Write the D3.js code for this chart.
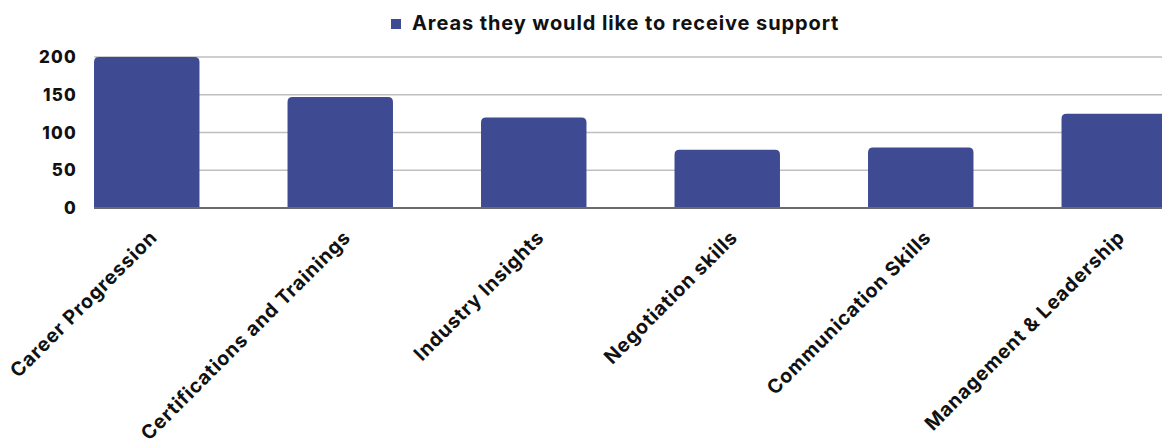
<!DOCTYPE html>
<html>
<head>
<meta charset="utf-8">
<script src="https://cdn.jsdelivr.net/npm/d3@7"></script>
<style>
  html, body { margin: 0; padding: 0; background: #ffffff; }
  svg { display: block; font-family: Inter, Lato, "Open Sans", sans-serif; }
</style>
</head>
<body>
<svg id="chart" width="1162" height="442"></svg>
<script>
// Survey responses: areas where respondents would like support
const categories = [
  "Career Progression",
  "Certifications and Trainings",
  "Industry Insights",
  "Negotiation skills",
  "Communication Skills",
  "Management & Leadership"
];
const supportCounts = [200, 147, 120, 77, 80, 125];
const yTicks = [0, 50, 100, 150, 200];
const seriesName = "Areas they would like to receive support";

const W = 1162, H = 442;
const barColor = "#3e4b92";

const svg = d3.select("#chart");

// Plot frame: category bands run past the right edge of the canvas
const plotLeft = 94;
const x = d3.scaleBand()
  .domain(categories)
  .range([50, 50 + 193.5 * categories.length])
  .paddingInner(0.455)
  .paddingOuter(0.2275);

const y = d3.scaleLinear()
  .domain([0, 200])
  .range([208, 57]);

// Horizontal gridlines
svg.append("g")
  .selectAll("line")
  .data(yTicks.filter(d => d > 0))
  .join("line")
  .attr("x1", plotLeft)
  .attr("x2", W)
  .attr("y1", d => y(d))
  .attr("y2", d => y(d))
  .attr("stroke", "#bfbfbf")
  .attr("stroke-width", 1.5);

// Y axis tick labels
svg.append("g")
  .selectAll("text")
  .data(yTicks)
  .join("text")
  .attr("x", 77)
  .attr("y", d => y(d))
  .attr("dy", "0.36em")
  .attr("text-anchor", "end")
  .attr("font-size", 17)
  .attr("font-weight", 800)
  .attr("letter-spacing", 1.2)
  .attr("fill", "#111")
  .text(d => d);

// Bars with rounded top corners
const r = 5;
function barPath(d, i) {
  const x0 = x(categories[i]);
  const x1 = x0 + x.bandwidth();
  const yt = y(d);
  const yb = y(0);
  return `M${x0},${yb} L${x0},${yt + r} Q${x0},${yt} ${x0 + r},${yt} ` +
         `L${x1 - r},${yt} Q${x1},${yt} ${x1},${yt + r} L${x1},${yb} Z`;
}
svg.append("g")
  .selectAll("path")
  .data(supportCounts)
  .join("path")
  .attr("d", (d, i) => barPath(d, i))
  .attr("fill", barColor);

// Baseline
svg.append("line")
  .attr("x1", plotLeft)
  .attr("x2", W)
  .attr("y1", y(0))
  .attr("y2", y(0))
  .attr("stroke", "#6b6b6b")
  .attr("stroke-width", 2);

// Rotated category labels
svg.append("g")
  .selectAll("text")
  .data(categories)
  .join("text")
  .attr("transform", d => `translate(${x(d) + x.bandwidth() / 2 + 2},${229}) rotate(-45)`)
  .attr("text-anchor", "end")
  .attr("dy", "0.7em")
  .attr("font-size", 19.5)
  .attr("font-weight", 700)
  .attr("letter-spacing", 0.8)
  .attr("fill", "#111")
  .text(d => d);

// Legend
const legend = svg.append("g");
legend.append("rect")
  .attr("x", 391)
  .attr("y", 19)
  .attr("width", 10)
  .attr("height", 10)
  .attr("fill", barColor);
legend.append("text")
  .attr("x", 412)
  .attr("y", 29.5)
  .attr("font-size", 20)
  .attr("font-weight", 700)
  .attr("letter-spacing", 0.9)
  .attr("fill", "#111")
  .text(seriesName);
</script>
</body>
</html>
